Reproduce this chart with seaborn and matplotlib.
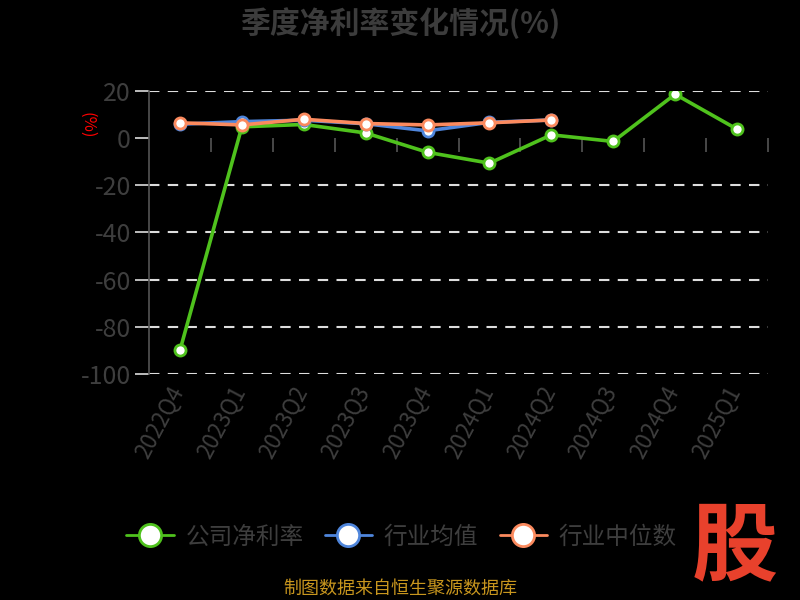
import matplotlib
matplotlib.use("Agg")
import matplotlib.pyplot as plt
from matplotlib.lines import Line2D
import matplotlib.transforms as mtransforms
import seaborn as sns
import numpy as np
import pandas as pd

quarters = ["2022Q4", "2023Q1", "2023Q2", "2023Q3", "2023Q4",
            "2024Q1", "2024Q2", "2024Q3", "2024Q4", "2025Q1"]
company = [-90.0, 4.7, 5.7, 2.1, -6.1, -10.7, 1.3, -1.5, 18.5, 3.7]
ind_mean = [5.8, 6.9, 7.5, 6.0, 3.0, 6.6, 7.6, np.nan, np.nan, np.nan]
ind_median = [6.4, 5.5, 7.9, 6.1, 5.5, 6.4, 7.6, np.nan, np.nan, np.nan]
series_names = ["公司净利率", "行业均值", "行业中位数"]
colors = ["#4fc21d", "#4f86dc", "#fb8a5e"]
yticks = [20, 0, -20, -40, -60, -80, -100]

sns.set_theme(style="dark")
plt.rcParams['font.family'] = ['Noto Sans CJK SC', 'DejaVu Sans']
plt.rcParams['axes.unicode_minus'] = False

rows = []
for name, vals in zip(series_names, [company, ind_mean, ind_median]):
    for i, v in enumerate(vals):
        rows.append({"idx": i, "val": v, "series": name})
df = pd.DataFrame(rows)

fig = plt.figure(figsize=(8, 6), dpi=100, facecolor="black")
ax = fig.add_axes([149/800, 1-374/600, (768-149)/800, (374-90.7)/600])
ax.set_facecolor("black")

ax.set_xlim(-0.5, 9.5)
ax.set_ylim(-100, 20)

# grid lines
for yv in yticks:
    if yv != 0:
        ax.axhline(yv, color="#dddddd", lw=1.5, ls=(0, (5, 4)), zorder=1)

for name, col in zip(series_names, colors):
    sub = df[df.series == name].dropna()
    sns.lineplot(data=sub, x="idx", y="val", ax=ax, color=col, lw=2.6,
                 marker="o", markersize=8, markerfacecolor="white",
                 markeredgecolor=col, markeredgewidth=2, zorder=3, legend=False)

ax.set_xlabel("")
ax.set_ylabel("")
for s in ["top", "right", "bottom"]:
    ax.spines[s].set_visible(False)
ax.spines["left"].set_color("#555555")
ax.spines["left"].set_linewidth(1.2)

ax.set_yticks(yticks)
ax.set_yticklabels([str(v) for v in yticks])
ax.tick_params(axis="y", colors="#dddddd", labelcolor="#3e3e3e", labelsize=18,
               length=10, width=1.2, left=True, pad=3)
for lab in ax.get_yticklabels():
    lab.set_fontweight("light")
ax.set_xticks(range(len(quarters)))
ax.set_xticklabels(quarters, rotation=62, ha="right", va="top",
                   rotation_mode="anchor", color="#3e3e3e", fontsize=16)
ax.tick_params(axis="x", length=0, pad=6, bottom=True)
offset = mtransforms.ScaledTranslation(-12/100, 0, fig.dpi_scale_trans)
for lab in ax.get_xticklabels():
    lab.set_transform(lab.get_transform() + offset)
    lab.set_fontweight("light")
ax.grid(False)

# zero axis line with boundary ticks
sec = ax.secondary_xaxis(100/120)
sec.set_xticks(np.arange(0.5, 10, 1.0))
sec.set_xticklabels([])
sec.tick_params(axis="x", direction="out", length=10, width=1.2, color="#555555",
                bottom=True, top=False, labelbottom=False, labeltop=False)
sec.spines["bottom"].set_color("#555555")
sec.spines["bottom"].set_linewidth(1.2)
sec.spines["top"].set_visible(False)
sec.xaxis.set_ticks_position("bottom")

# title and labels
fig.text(0.5, 1-23/600, "季度净利率变化情况(%)", ha="center", va="center",
         fontsize=21.5, fontweight="bold", color="#3c3c3c")
fig.text(87/800, 1-125/600, "(%)", ha="center", va="center", rotation=-90,
         fontsize=12, color="#ff0000")

handles = [Line2D([0], [0], color=c, lw=2, marker="o", markersize=16,
                  markerfacecolor="white", markeredgecolor=c, markeredgewidth=2)
           for c in colors]
leg = fig.legend(handles, series_names, loc="center", bbox_to_anchor=(0.502, 1-537/600),
                 ncol=3, frameon=False, fontsize=17, handlelength=2.0,
                 columnspacing=0.9, handletextpad=0.5)
for t in leg.get_texts():
    t.set_color("#3e3e3e")
    t.set_fontweight("light")

fig.text(0.5, 1-589/600, "制图数据来自恒生聚源数据库", ha="center", va="center",
         fontsize=13, color="#c8961e")
fig.text(735/800, 1-548/600, "股", ha="center", va="center", fontsize=62,
         fontweight="heavy", color="#e8412c", style="italic")

fig.savefig("out.png", dpi=100, facecolor="black")
